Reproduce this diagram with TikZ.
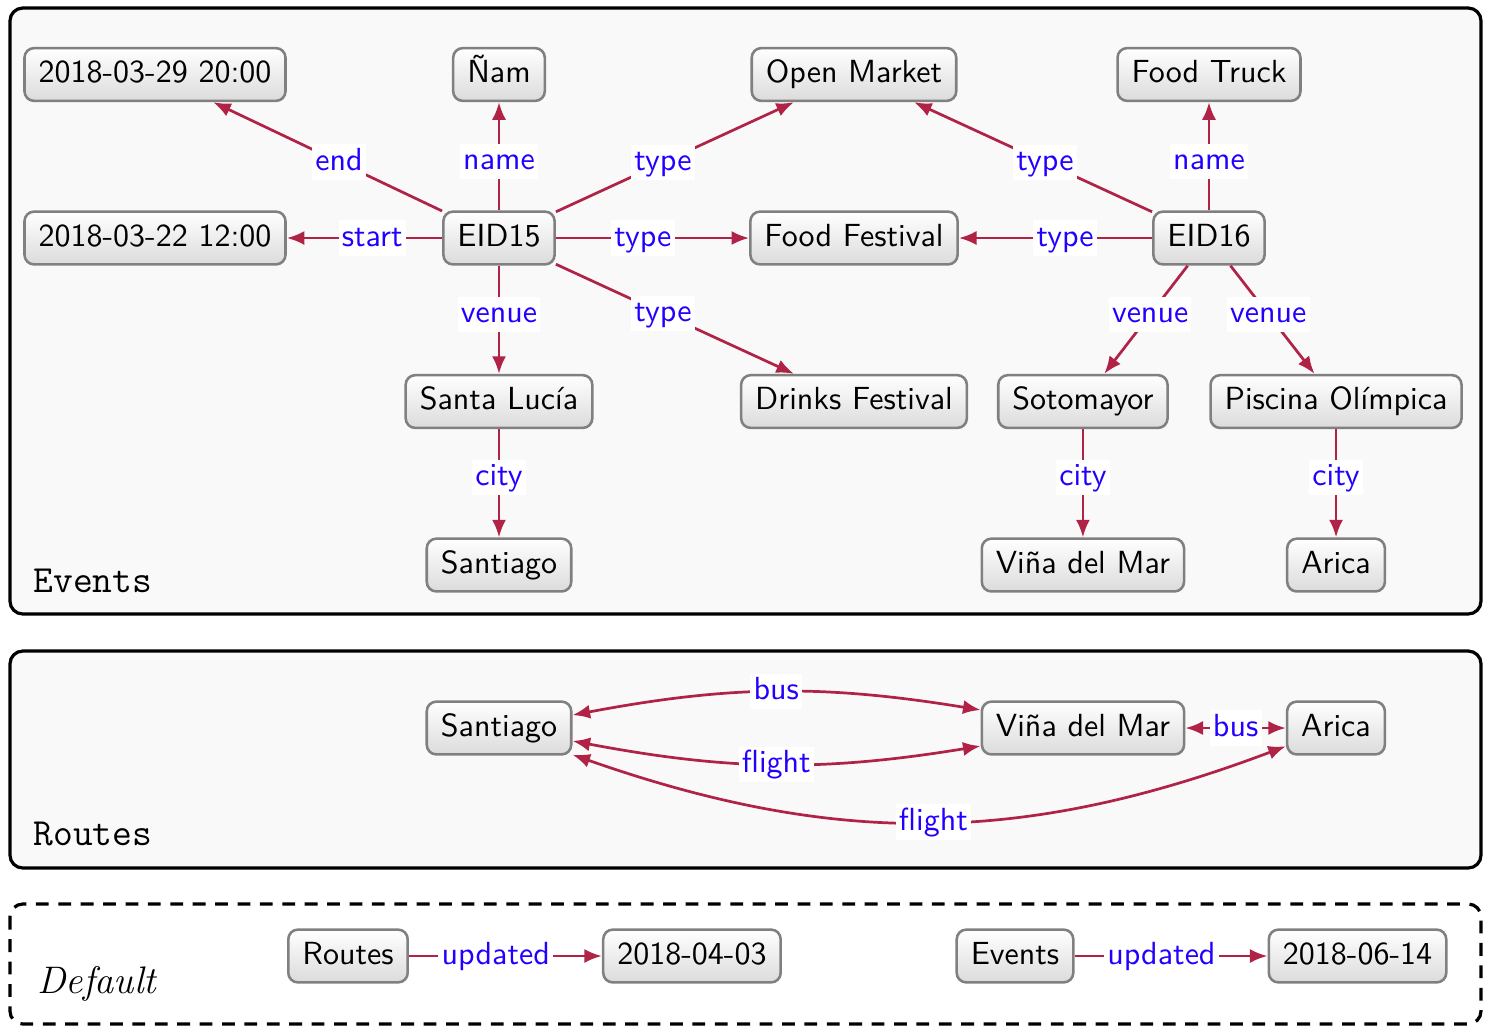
\documentclass[tikz,border=0pt]{standalone}
\usepackage{fontspec}
\usetikzlibrary{arrows.meta,positioning}

\definecolor{edgered}{RGB}{176,35,70}
\definecolor{lblblue}{RGB}{34,0,255}
\definecolor{panelbg}{RGB}{249,249,249}

\begin{document}
\begin{tikzpicture}[x=0.3125pt, y=-0.3125pt, node distance=33.8pt and 60.3pt,
  vertex/.style={rectangle,draw=gray,line width=0.8pt,rounded corners=3pt,top color=white,bottom color=black!14,font=\sffamily,inner xsep=4.4pt,text height=7pt,text depth=2pt,minimum height=16.5pt},
  rel/.style={-{Latex[length=5.5pt,width=4.4pt]},draw=edgered,line width=0.85pt},
  birel/.style={{Latex[length=5.5pt,width=4.4pt]}-{Latex[length=5.5pt,width=4.4pt]},draw=edgered,line width=0.85pt},
  lbl/.style={font=\sffamily,text=lblblue,fill=white,inner sep=1pt,text height=7pt,text depth=2pt,pos=0.45},
  panel/.style={draw,line width=1pt,rounded corners=4pt,fill=panelbg},
  panelname/.style={anchor=base west,inner sep=0pt,font=\large\ttfamily}]
\useasboundingbox (0,0) rectangle (1498,1032);
% graph frames
\draw[panel] (10,8) rectangle (1481,614);
\draw[panel] (10,651) rectangle (1481,868);
\draw[line width=1pt,rounded corners=4pt,dash pattern=on 4pt off 3pt] (10,904) rectangle (1481,1024);
\node[panelname] (evname) at (33,592) {Events};
\node[panelname] (rtname) at (33,845) {Routes};
\node[anchor=base west,inner sep=0pt,font=\large\itshape] (dfname) at (37,993) {Default};

% Events graph
\node[vertex] (eid15) at (499,238) {EID15};
\node[vertex] (start) at (155,238) {2018-03-22 12:00};
\node[vertex] (foodfest) at (854,238) {Food Festival};
\node[vertex] (eid16) at (1209,238) {EID16};
\node[vertex,above=of start] (end) {2018-03-29 20:00};
\node[vertex,above=of eid15] (nam) {Ñam};
\node[vertex,above=of foodfest] (market) {Open Market};
\node[vertex,above=of eid16] (truck) {Food Truck};
\node[vertex,below=of eid15] (lucia) {Santa Lucía};
\node[vertex,below=of foodfest] (drinkfest) {Drinks Festival};
\node[vertex,below=of eid16,xshift=-39.4pt] (soto) {Sotomayor};
\node[vertex,below=of eid16,xshift=39.7pt] (piscina) {Piscina Olímpica};
\node[vertex,below=of lucia] (scl) {Santiago};
\node[vertex,below=of soto] (vina) {Viña del Mar};
\node[vertex,below=of piscina] (arica) {Arica};
\draw[rel] (eid15) -- node[lbl]{end} (end);
\draw[rel] (eid15) -- node[lbl]{start} (start);
\draw[rel] (eid15) -- node[lbl]{name} (nam);
\draw[rel] (eid15) -- node[lbl]{type} (market);
\draw[rel] (eid15) -- node[lbl]{type} (foodfest);
\draw[rel] (eid15) -- node[lbl]{type} (drinkfest);
\draw[rel] (eid15) -- node[lbl]{venue} (lucia);
\draw[rel] (lucia) -- node[lbl]{city} (scl);
\draw[rel] (eid16) -- node[lbl]{type} (market);
\draw[rel] (eid16) -- node[lbl]{name} (truck);
\draw[rel] (eid16) -- node[lbl]{type} (foodfest);
\draw[rel] (eid16) -- node[lbl]{venue} (soto);
\draw[rel] (eid16) -- node[lbl]{venue} (piscina);
\draw[rel] (soto) -- node[lbl]{city} (vina);
\draw[rel] (piscina) -- node[lbl]{city} (arica);

% Routes graph
\node[vertex] (rscl) at (499,728) {Santiago};
\node[vertex] (rvina) at (1083,728) {Viña del Mar};
\node[vertex] (rarica) at (1336,728) {Arica};
\draw[birel] (rscl) to[bend left=10] node[lbl,pos=0.5]{bus} (rvina);
\draw[birel] (rscl) to[bend right=10] node[lbl,pos=0.5]{flight} (rvina);
\draw[birel] (rscl) to[bend right=20] node[lbl,pos=0.505]{flight} (rarica);
\draw[birel] (rvina) -- node[lbl,pos=0.5]{bus} (rarica);

% Default graph
\node[vertex] (droutes) at (348,956) {Routes};
\node[vertex,right=of droutes] (droutesdate) {2018-04-03};
\node[vertex] (devents) at (1015,956) {Events};
\node[vertex,right=of devents] (deventsdate) {2018-06-14};
\draw[rel] (droutes) -- node[lbl]{updated} (droutesdate);
\draw[rel] (devents) -- node[lbl]{updated} (deventsdate);
\end{tikzpicture}
\end{document}
